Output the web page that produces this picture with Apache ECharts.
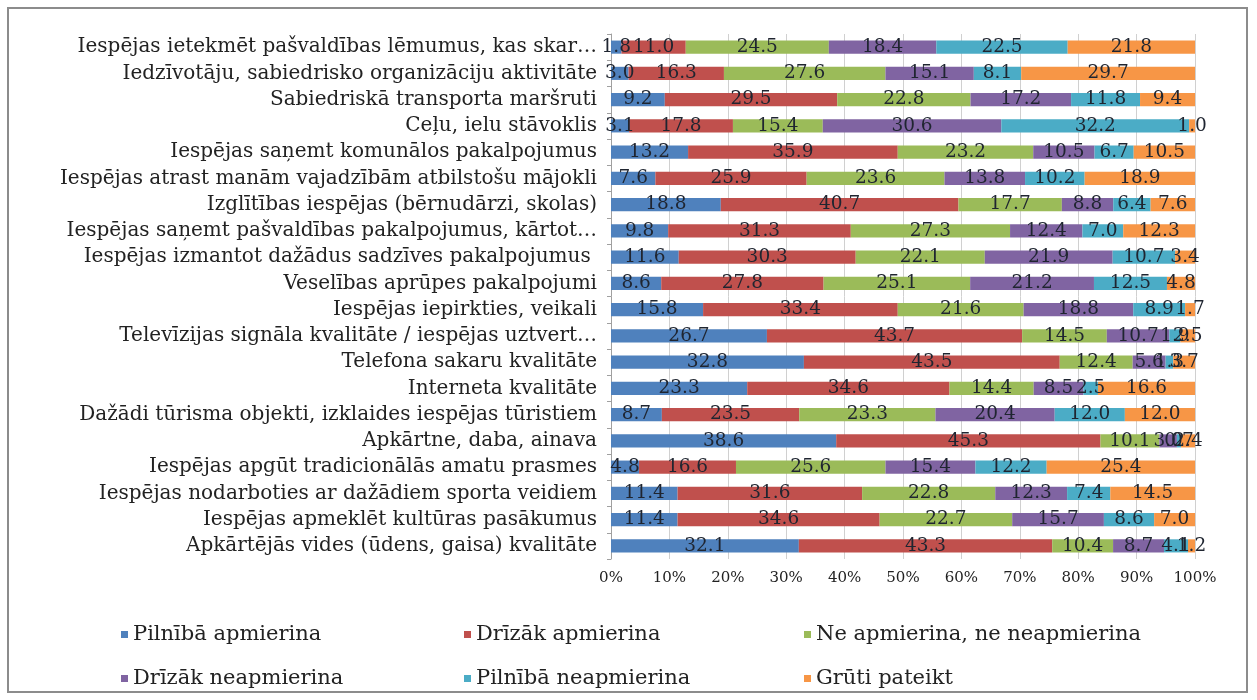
<!DOCTYPE html>
<html>
<head>
<meta charset="utf-8">
<script src="https://cdn.jsdelivr.net/npm/echarts@6/dist/echarts.min.js"></script>
<style>html,body{margin:0;padding:0;background:#fff}#c{width:1257px;height:700px}</style>
</head>
<body>
<div id="c"></div>
<script>
const categories = [
  "Iespējas ietekmēt pašvaldības lēmumus, kas skar…",
  "Iedzīvotāju, sabiedrisko organizāciju aktivitāte",
  "Sabiedriskā transporta maršruti",
  "Ceļu, ielu stāvoklis",
  "Iespējas saņemt komunālos pakalpojumus",
  "Iespējas atrast manām vajadzībām atbilstošu mājokli",
  "Izglītības iespējas (bērnudārzi, skolas)",
  "Iespējas saņemt pašvaldības pakalpojumus, kārtot…",
  "Iespējas izmantot dažādus sadzīves pakalpojumus ",
  "Veselības aprūpes pakalpojumi",
  "Iespējas iepirkties, veikali",
  "Televīzijas signāla kvalitāte / iespējas uztvert…",
  "Telefona sakaru kvalitāte",
  "Interneta kvalitāte",
  "Dažādi tūrisma objekti, izklaides iespējas tūristiem",
  "Apkārtne, daba, ainava",
  "Iespējas apgūt tradicionālās amatu prasmes",
  "Iespējas nodarboties ar dažādiem sporta veidiem",
  "Iespējas apmeklēt kultūras pasākumus",
  "Apkārtējās vides (ūdens, gaisa) kvalitāte"
];
const seriesNames = ["Pilnībā apmierina","Drīzāk apmierina","Ne apmierina, ne neapmierina","Drīzāk neapmierina","Pilnībā neapmierina","Grūti pateikt"];
const pilnibaApmierina   = [1.8, 3.0, 9.2, 3.1, 13.2, 7.6, 18.8, 9.8, 11.6, 8.6, 15.8, 26.7, 32.8, 23.3, 8.7, 38.6, 4.8, 11.4, 11.4, 32.1];
const drizakApmierina    = [11.0, 16.3, 29.5, 17.8, 35.9, 25.9, 40.7, 31.3, 30.3, 27.8, 33.4, 43.7, 43.5, 34.6, 23.5, 45.3, 16.6, 31.6, 34.6, 43.3];
const neNe               = [24.5, 27.6, 22.8, 15.4, 23.2, 23.6, 17.7, 27.3, 22.1, 25.1, 21.6, 14.5, 12.4, 14.4, 23.3, 10.1, 25.6, 22.8, 22.7, 10.4];
const drizakNeapmierina  = [18.4, 15.1, 17.2, 30.6, 10.5, 13.8, 8.8, 12.4, 21.9, 21.2, 18.8, 10.7, 5.6, 8.5, 20.4, 3.0, 15.4, 12.3, 15.7, 8.7];
const pilnibaNeapmierina = [22.5, 8.1, 11.8, 32.2, 6.7, 10.2, 6.4, 7.0, 10.7, 12.5, 8.9, 1.9, 1.3, 2.5, 12.0, 0.7, 12.2, 7.4, 8.6, 4.1];
const grutiPateikt       = [21.8, 29.7, 9.4, 1.0, 10.5, 18.9, 7.6, 12.3, 3.4, 4.8, 1.7, 2.5, 3.7, 16.6, 12.0, 2.4, 25.4, 14.5, 7.0, 1.2];
const xTickLabels = ["0%","10%","20%","30%","40%","50%","60%","70%","80%","90%","100%"];

const colors = ["#4f81bd","#c0504d","#9bbb59","#8064a2","#4bacc6","#f79646"];
const raw = [pilnibaApmierina, drizakApmierina, neNe, drizakNeapmierina, pilnibaNeapmierina, grutiPateikt];
const totals = categories.map((_, i) => raw.reduce((s, a) => s + a[i], 0));
const serif = "'DejaVu Serif', 'Liberation Serif', serif";

const series = raw.map((arr, k) => ({
  name: seriesNames[k],
  type: 'bar',
  stack: 'all',
  barWidth: '50%',
  itemStyle: { color: colors[k] },
  label: {
    show: true, position: 'inside',
    fontFamily: serif, fontSize: 18.5, color: '#1f2530',
    formatter: p => arr[p.dataIndex].toFixed(1)
  },
  labelLayout: { hideOverlap: false },
  data: arr.map((v, i) => v / totals[i] * 100)
}));

const legendPos = [[116,619],[459,619],[799,619],[116,663],[459,663],[799,663]];
const legends = seriesNames.map((n, k) => ({
  data: [n], left: legendPos[k][0], top: legendPos[k][1],
  icon: 'rect', itemWidth: 7, itemHeight: 7, itemGap: 3,
  textStyle: { fontFamily: serif, fontSize: 21, color: '#222' },
  selectedMode: false
}));

const chart = echarts.init(document.getElementById('c'), null, { renderer: 'canvas' });
chart.setOption({
  animation: false,
  backgroundColor: '#fff',
  graphic: [{ type: 'rect', shape: { x: 8, y: 8, width: 1239, height: 684 }, style: { fill: 'none', stroke: '#8c8c8c', lineWidth: 2 } }],
  legend: legends,
  grid: { left: 611, right: 62, top: 34, bottom: 141 },
  xAxis: {
    type: 'value', min: 0, max: 100, interval: 10,
    axisLine: { show: false },
    axisTick: { show: false },
    splitLine: { show: true, lineStyle: { color: '#d0d0d0', width: 1 } },
    axisLabel: { fontFamily: serif, fontSize: 15, color: '#222', margin: 12,
      formatter: v => xTickLabels[Math.round(v / 10)] }
  },
  yAxis: {
    type: 'category', data: categories, inverse: true,
    axisLine: { show: true, lineStyle: { color: '#a0a0a0' } },
    axisTick: { show: true, length: 4, lineStyle: { color: '#a0a0a0' } },
    axisLabel: { fontFamily: serif, fontSize: 20, color: '#222', margin: 14 }
  },
  series: series
});
</script>
</body>
</html>
